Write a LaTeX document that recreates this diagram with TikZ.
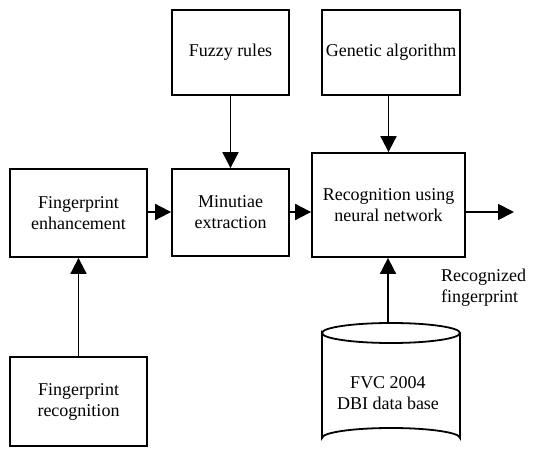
\documentclass[tikz,border=0pt]{standalone}
\usepackage{fontspec}
\setmainfont{Liberation Serif}
\usetikzlibrary{arrows.meta}
\begin{document}
\begin{tikzpicture}[x=1pt,y=-1pt,
  every node/.style={font=\fontsize{18}{21}\selectfont},
  blk/.style={draw,line width=1.8pt,rectangle,align=center,inner sep=2pt},
  arr/.style={line width=1.8pt,-{Triangle[length=16pt,width=16pt]}}]
\useasboundingbox (0,0) rectangle (560,449);
\node[blk,minimum width=117pt,minimum height=85pt] (fuz) at (230.5,52.5) {Fuzzy rules};
\node[blk,minimum width=138pt,minimum height=85pt] (gen) at (391,52.5) {Genetic algorithm};
\node[blk,minimum width=137pt,minimum height=88pt] (enh) at (78.5,213) {Fingerprint\\enhancement};
\node[blk,minimum width=117pt,minimum height=87pt] (min) at (230.5,212.5) {Minutiae\\extraction};
\node[blk,minimum width=153pt,minimum height=104pt] (rec) at (388.5,205) {Recognition using\\neural network};
\node[blk,minimum width=137pt,minimum height=89pt] (fr) at (78.5,401.5) {Fingerprint\\recognition};
% cylinder
\draw[line width=1.8pt] (322,333) arc[start angle=180,end angle=360,x radius=69,y radius=10]
  arc[start angle=0,end angle=180,x radius=69,y radius=10] -- (322,438)
  arc[start angle=180,end angle=360,x radius=69,y radius=10] -- (460,333);
\coordinate (dbtop) at (388,323);
\node[align=center] (db) at (388,393) {FVC 2004\\DBI data base};
\node[align=left,anchor=west,inner sep=0pt] (out) at (441,288) {Recognized\\fingerprint};
\coordinate (outend) at (514,212);
\draw[arr] (fuz) -- (min);
\draw[arr] (rec.north |- gen.south) -- (rec.north);
\draw[arr] (enh.east |- 0,212) -- (min.west |- 0,212);
\draw[arr] (min.east |- 0,212) -- (rec.west |- 0,212);
\draw[arr] (rec.east |- 0,212) -- (outend);
\draw[arr] (fr) -- (enh);
\draw[arr] (dbtop) -- (rec.south -| dbtop);
\end{tikzpicture}
\end{document}
